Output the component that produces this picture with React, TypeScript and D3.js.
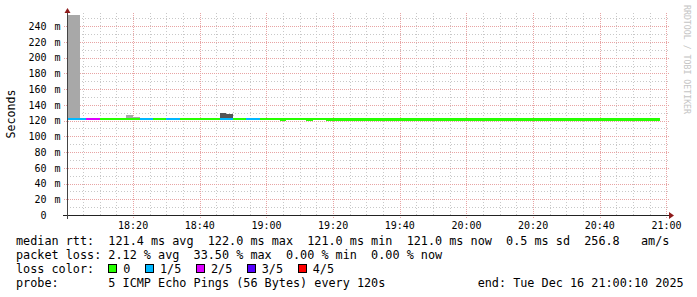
import React from "react";
import * as d3 from "d3";

// minutes after 18:00 UTC, 2025-12-16
const T0 = Date.UTC(2025, 11, 16, 18, 0, 0);
const START_MIN = 10 / 60;
const END_MIN = 180 + 10 / 60;
const Y_MAX = 256.8;

// [startMin, endMin, median ms]
const medianRuns: [number, number, number][] = [
  [START_MIN, 64, 122.0],
  [64, 66, 121.0],
  [66, 72, 122.0],
  [72, 74, 121.0],
  [74, 78, 122.0],
  [78, 178, 121.0],
];

// [startMin, endMin, lost pings of 5]
const lossRuns: [number, number, number][] = [
  [START_MIN, 6, 1],
  [6, 10, 2],
  [10, 22, 0],
  [22, 26, 1],
  [26, 30, 0],
  [30, 34, 1],
  [34, 46, 0],
  [46, 50, 1],
  [50, 54, 0],
  [54, 58, 1],
  [58, 178, 0],
];

// [startMin, endMin, top ms, shade index]
const smokeRuns: [number, number, number, number][] = [
  [START_MIN, 4, 254.0, 0],
  [18, 20, 127.0, 0],
  [20, 22, 124.8, 0],
  [46, 48, 129.5, 1],
  [48, 50, 128.3, 1],
];

const smokeColors = ["#a8a8a8", "#565656"];
const lossColors = ["#26ff00", "#00b8ff", "#dd00ff", "#5500ff", "#ff0000"];
const lossLabels = ["0", "1/5", "2/5", "3/5", "4/5"];

const yMajorTicks = [0, 20, 40, 60, 80, 100, 120, 140, 160, 180, 200, 220, 240];
const yMinorTicks = [10, 30, 50, 70, 90, 110, 130, 150, 170, 190, 210, 230, 250];
const xTickLabels = ["18:20", "18:40", "19:00", "19:20", "19:40", "20:00", "20:20", "20:40", "21:00"];

const medianLine = "median rtt:  121.4 ms avg  122.0 ms max  121.0 ms min  121.0 ms now  0.5 ms sd  256.8   am/s";
const lossLine = "packet loss: 2.12 % avg  33.50 % max  0.00 % min  0.00 % now";
const lossColorTitle = "loss color:";
const probeLine = "probe:       5 ICMP Echo Pings (56 Bytes) every 120s             end: Tue Dec 16 21:00:10 2025";

const toDate = (m: number) => new Date(T0 + m * 60000);

export default function App() {
  const W = 697, H = 297;
  const x = d3.scaleUtc().domain([toDate(START_MIN), toDate(END_MIN)]).range([67, 667]);
  const y = d3.scaleLinear().domain([0, Y_MAX]).range([215, 13]);
  const mono = "'DejaVu Sans Mono', monospace";

  const minorX = d3.utcMinute.every(5)!.range(toDate(START_MIN), toDate(END_MIN + 0.01));
  const majorSet = new Set(
    d3.utcMinute.every(20)!.range(toDate(START_MIN), toDate(END_MIN + 0.01)).map((d) => +d)
  );

  const labelDate = (s: string) => {
    const [h, m] = s.split(":").map(Number);
    return toDate((h - 18) * 60 + m);
  };

  const medTop = (v: number) => Math.floor(y(v) - 1);
  const medBot = (v: number) => Math.ceil(y(v) + 0.5);

  // median line segments coloured by loss
  const medSegs: { x0: number; x1: number; v: number; c: string }[] = [];
  medianRuns.forEach(([a, b, v]) => {
    lossRuns.forEach(([la, lb, l]) => {
      const s = Math.max(a, la), e = Math.min(b, lb);
      if (e > s) medSegs.push({ x0: x(toDate(s)), x1: x(toDate(e)), v, c: lossColors[l] });
    });
  });

  const medianAt = (m: number) => {
    const r = medianRuns.find(([a, b]) => m >= a && m < b);
    return r ? r[2] : 121;
  };

  const boxX = [108.5, 145.7, 196.7, 247, 298.3];
  const boxTextX = [123.3, 160, 211, 261.7, 312.7];
  const legendFont = 11.8;

  return (
    <svg width={W} height={H} style={{ position: "absolute", left: 0, top: 0, background: "#fff" }}>
      <rect x={0} y={0} width={W} height={H} fill="#fff" />
      {/* grid */}
      <g shapeRendering="crispEdges">
        {yMinorTicks.map((v) => (
          <line key={"ym" + v} x1={67} x2={670} y1={Math.round(y(v)) + 0.5} y2={Math.round(y(v)) + 0.5}
            stroke="#c8c8c8" strokeDasharray="1,2" />
        ))}
        {minorX.filter((d) => !majorSet.has(+d)).map((d) => (
          <line key={"xm" + +d} x1={Math.round(x(d)) + 0.5} x2={Math.round(x(d)) + 0.5} y1={13} y2={217}
            stroke="#c8c8c8" strokeDasharray="1,2" />
        ))}
        {yMajorTicks.filter((v) => v > 0).map((v) => (
          <line key={"yM" + v} x1={64} x2={670} y1={Math.round(y(v)) + 0.5} y2={Math.round(y(v)) + 0.5}
            stroke="#e8a4a4" strokeDasharray="1,1" />
        ))}
        {xTickLabels.map((s) => {
          const xx = Math.round(x(labelDate(s))) + 0.5;
          return <line key={"xM" + s} x1={xx} x2={xx} y1={13} y2={218} stroke="#e8a4a4" strokeDasharray="1,1" />;
        })}
      </g>

      {/* smoke */}
      <g shapeRendering="crispEdges">
        {smokeRuns.map(([a, b, top, s], i) => {
          const x0 = Math.round(x(toDate(a))), x1 = Math.round(x(toDate(b)));
          const yt = Math.round(y(top)), yb = medTop(medianAt(a));
          return <rect key={"s" + i} x={x0} y={yt} width={x1 - x0} height={yb - yt} fill={smokeColors[s]} />;
        })}
      </g>

      {/* median */}
      <g shapeRendering="crispEdges">
        {medSegs.map((sg, i) => {
          const x0 = Math.round(sg.x0), x1 = Math.round(sg.x1);
          const t = medTop(sg.v), b = medBot(sg.v);
          return <rect key={"m" + i} x={x0} y={t} width={x1 - x0} height={b - t} fill={sg.c} />;
        })}
      </g>

      {/* axes */}
      <g shapeRendering="crispEdges">
        <line x1={63} x2={670} y1={215.5} y2={215.5} stroke="#222" />
        <line x1={67.5} x2={67.5} y1={219} y2={12} stroke="#444" />
      </g>
      <path d="M669,212 L674,215.5 L669,219 Z" fill="#8e1b1b" />
      <path d="M64.5,13 L67.5,8 L70.5,13 Z" fill="#8e1b1b" />

      {/* y labels */}
      <g fontFamily={mono} fontSize={10} fill="#000">
        {yMajorTicks.map((v) => (
          <g key={"yl" + v}>
            <text x={46.5} y={y(v) + 3.8} textAnchor="end">{v}</text>
            {v > 0 && <text x={54.5} y={y(v) + 3.8}>m</text>}
          </g>
        ))}
        {xTickLabels.map((s) => (
          <text key={"xl" + s} x={x(labelDate(s))} y={229} textAnchor="middle">{s}</text>
        ))}
      </g>

      {/* y title */}
      <text transform="translate(15.3,114) rotate(-90)" textAnchor="middle" fontFamily={mono} fontSize={11.6} fill="#000">
        Seconds
      </text>

      {/* watermark */}
      <text transform="translate(683.5,5) rotate(90)" fontFamily={mono} fontSize={9} fill="#c4c4c4"
        textLength={109} lengthAdjust="spacingAndGlyphs">
        RRDTOOL / TOBI OETIKER
      </text>

      {/* legend */}
      <g fontFamily={mono} fontSize={legendFont} fill="#000" style={{ whiteSpace: "pre" }}>
        <text x={16} y={245} xmlSpace="preserve">{medianLine}</text>
        <text x={16} y={259} xmlSpace="preserve">{lossLine}</text>
        <text x={16} y={273}>{lossColorTitle}</text>
        {lossLabels.map((t, i) => (
          <g key={"l3" + i}>
            <rect x={boxX[i]} y={264.5} width={8} height={8} fill={lossColors[i]} stroke="#000" strokeWidth={1} shapeRendering="crispEdges" />
            <text x={boxTextX[i]} y={273}>{t}</text>
          </g>
        ))}
        <text x={16} y={287} xmlSpace="preserve">{probeLine}</text>
      </g>
    </svg>
  );
}
